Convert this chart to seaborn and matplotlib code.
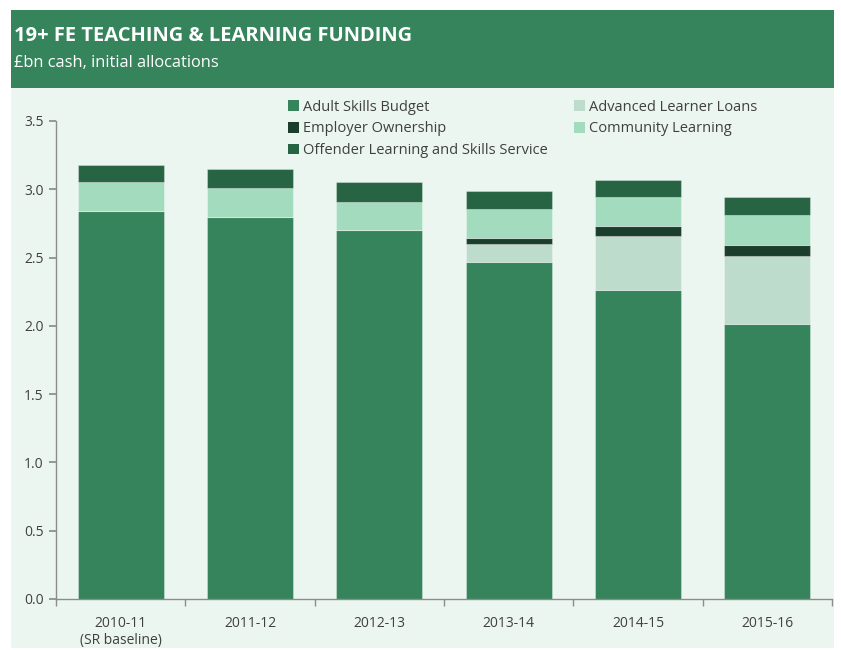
import matplotlib
matplotlib.use("Agg")
import matplotlib.pyplot as plt
import seaborn as sns
import numpy as np
import pandas as pd
from matplotlib.patches import Rectangle, Patch

years = ["2010-11\n(SR baseline)", "2011-12", "2012-13", "2013-14", "2014-15", "2015-16"]
adult_skills = [2.84, 2.80, 2.70, 2.47, 2.26, 2.01]
advanced_loans = [0.0, 0.0, 0.0, 0.13, 0.40, 0.50]
employer_ownership = [0.0, 0.0, 0.0, 0.04, 0.07, 0.08]
community_learning = [0.21, 0.21, 0.21, 0.215, 0.21, 0.22]
offender_learning = [0.13, 0.14, 0.14, 0.135, 0.13, 0.13]

series = [
    ("Adult Skills Budget", adult_skills, "#35845B"),
    ("Advanced Learner Loans", advanced_loans, "#BEDCCB"),
    ("Employer Ownership", employer_ownership, "#1C3F2D"),
    ("Community Learning", community_learning, "#A3DBBF"),
    ("Offender Learning and Skills Service", offender_learning, "#276443"),
]

sns.set_theme(style="white")
plt.rcParams['font.family'] = ['Open Sans', 'DejaVu Sans']

text_col = "#404040"
bg = "#ECF6F0"
fig = plt.figure(figsize=(8.41, 6.5), dpi=100)
fig.patch.set_facecolor("white")

# background panels
fig.add_artist(Rectangle((11/841, 1 - 648/650), 823/841, (648-88)/650, transform=fig.transFigure,
                         facecolor=bg, edgecolor="none", zorder=0))
fig.add_artist(Rectangle((11/841, 1 - 88/650), 823/841, 78/650, transform=fig.transFigure,
                         facecolor="#35845B", edgecolor="none", zorder=0))
fig.text(14/841, 1 - 36/650, "19+ FE TEACHING & LEARNING FUNDING", color="white",
         fontsize=14.5, fontweight="bold", va="center", ha="left")
fig.text(14/841, 1 - 63/650, "£bn cash, initial allocations", color="white",
         fontsize=11.8, va="center", ha="left")

ax = fig.add_axes([56/841, 1 - 599/650, (832-56)/841, (599-121)/650])
ax.set_facecolor("none")

bottom = np.zeros(len(years))
handles = {}
for name, vals, col in series:
    df = pd.DataFrame({"year": years, "value": vals})
    sns.barplot(data=df, x="year", y="value", color=col, bottom=bottom, width=0.665,
                ax=ax, edgecolor=(1, 1, 1, 0.3), linewidth=0.8, saturation=1, errorbar=None)
    bottom = bottom + np.array(vals)
    handles[name] = Patch(facecolor=col, edgecolor="none")

ax.set_ylim(0, 3.5)
ax.set_xlim(-0.5, 5.5)
ax.set_yticks(np.arange(0, 3.51, 0.5))
ax.set_yticklabels([f"{v:.1f}" for v in np.arange(0, 3.51, 0.5)])
ax.set_xlabel("")
ax.set_ylabel("")
for s in ["top", "right"]:
    ax.spines[s].set_visible(False)
for s in ["left", "bottom"]:
    ax.spines[s].set_color("#8c8c8c")
    ax.spines[s].set_linewidth(1)
ax.tick_params(axis="y", left=True, length=5, color="#8c8c8c", labelsize=10, labelcolor=text_col, pad=4)
ax.tick_params(axis="x", which="major", length=0, labelsize=10, labelcolor=text_col, pad=12)
ax.set_xticks(np.arange(-0.5, 5.6, 1), minor=True)
ax.tick_params(axis="x", which="minor", bottom=True, length=5, color="#8c8c8c")

order = ["Adult Skills Budget", "Employer Ownership", "Offender Learning and Skills Service",
         "Advanced Learner Loans", "Community Learning"]
leg = ax.legend([handles[n] for n in order], order, ncol=2, loc="upper left",
                bbox_to_anchor=(282/841, 1 - 94/650), bbox_transform=fig.transFigure,
                frameon=False, fontsize=10.5, handlelength=0.75, handleheight=0.75,
                handletextpad=0.3, columnspacing=1.8, labelspacing=0.45, borderaxespad=0)
for t in leg.get_texts():
    t.set_color(text_col)

fig.savefig("out.png", dpi=100, facecolor="white")
